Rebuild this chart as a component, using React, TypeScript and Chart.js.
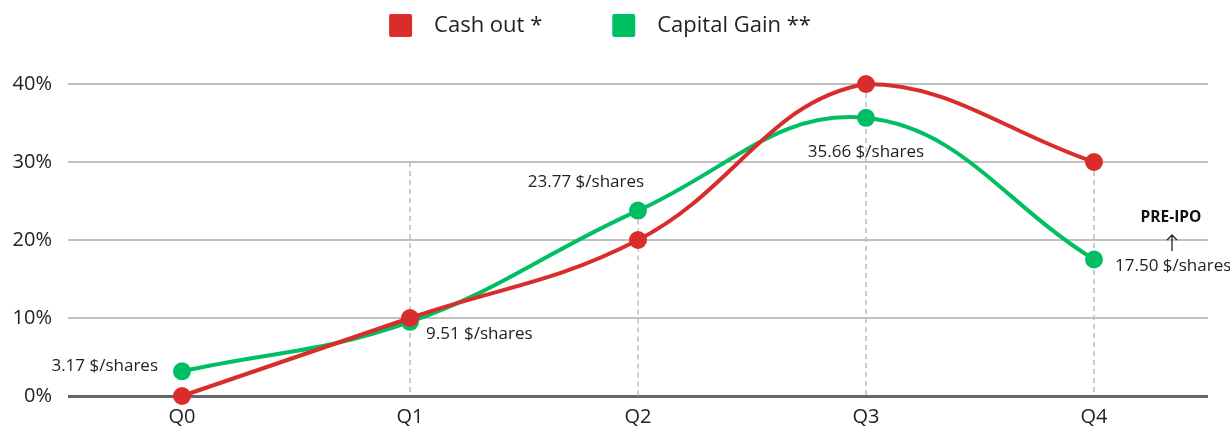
import React, { useEffect, useRef } from "react";
import { Chart, registerables } from "chart.js";

Chart.register(...registerables);

const categories = ["Q0", "Q1", "Q2", "Q3", "Q4"];
const cashOut = [0, 10, 20, 40, 30];
const capitalGain = [3.17, 9.51, 23.77, 35.66, 17.5];
const priceLabels = ["3.17 $/shares", "9.51 $/shares", "23.77 $/shares", "35.66 $/shares", "17.50 $/shares"];
const guideTops = [null, 30, 23.77, 40, 30];
const yTicks = [0, 10, 20, 30, 40];
const seriesNames = ["Cash out *", "Capital Gain **"];
const annotationText = "PRE-IPO";

const RED = "#d92d2b";
const GREEN = "#00bf63";
const FONT = "'Open Sans', sans-serif";

// label offsets relative to the green point (style, not data)
const labelPlacement = [
  { dx: -24, dy: -5, align: "right" },
  { dx: 16, dy: 12, align: "left" },
  { dx: -52, dy: -28, align: "center" },
  { dx: 0, dy: 34, align: "center" },
  { dx: 21, dy: 7, align: "left" },
];

const guidesPlugin = {
  id: "guides",
  beforeDatasetsDraw(chart: any) {
    const { ctx, scales } = chart;
    const x = scales.x, y = scales.y;
    ctx.save();
    ctx.strokeStyle = "#bdbdbd";
    ctx.lineWidth = 1.5;
    ctx.setLineDash([5, 4]);
    guideTops.forEach((v, i) => {
      if (v === null) return;
      const px = x.getPixelForValue(i);
      ctx.beginPath();
      ctx.moveTo(px, y.getPixelForValue(v));
      ctx.lineTo(px, y.getPixelForValue(0));
      ctx.stroke();
    });
    ctx.restore();
  },
  afterDraw(chart: any) {
    const { ctx, scales } = chart;
    const x = scales.x, y = scales.y;
    ctx.save();
    // price labels
    ctx.fillStyle = "#222";
    ctx.font = `17px ${FONT}`;
    ctx.textBaseline = "middle";
    priceLabels.forEach((t, i) => {
      const p = labelPlacement[i];
      ctx.textAlign = p.align as CanvasTextAlign;
      ctx.fillText(t, x.getPixelForValue(i) + p.dx, y.getPixelForValue(capitalGain[i]) + p.dy);
    });
    // PRE-IPO annotation
    const ax = x.getPixelForValue(categories.length - 1) + 78;
    const ay = y.getPixelForValue(20);
    ctx.font = `bold 15.5px ${FONT}`;
    ctx.textAlign = "center";
    ctx.fillStyle = "#111";
    ctx.fillText(annotationText, ax - 1, ay - 22);
    ctx.strokeStyle = "#222";
    ctx.lineWidth = 1.3;
    ctx.beginPath();
    ctx.moveTo(ax, ay + 11);
    ctx.lineTo(ax, ay - 5);
    ctx.moveTo(ax - 5, ay);
    ctx.lineTo(ax, ay - 5);
    ctx.lineTo(ax + 5, ay);
    ctx.stroke();
    // legend
    const colors = [RED, GREEN];
    ctx.font = `22px ${FONT}`;
    ctx.textAlign = "left";
    const widths = seriesNames.map((n) => 45 + ctx.measureText(n).width);
    const gap = 70;
    const total = widths.reduce((a, b) => a + b, 0) + gap * (widths.length - 1);
    let lx = chart.width / 2 - 15 - total / 2;
    seriesNames.forEach((n, i) => {
      ctx.fillStyle = colors[i];
      ctx.beginPath();
      (ctx as any).roundRect(lx, 14, 23, 23, 2);
      ctx.fill();
      ctx.fillStyle = "#222";
      ctx.fillText(n, lx + 45, 26);
      lx += widths[i] + gap;
    });
    ctx.restore();
  },
};

export default function App() {
  const ref = useRef<HTMLCanvasElement>(null);
  useEffect(() => {
    if (!ref.current) return;
    const chart = new Chart(ref.current, {
      type: "line",
      data: {
        labels: categories,
        datasets: [
          {
            label: seriesNames[0],
            data: cashOut,
            borderColor: RED,
            backgroundColor: RED,
            borderWidth: 4,
            pointRadius: 9,
            pointHoverRadius: 9,
            pointBorderWidth: 0,
            tension: 0.4,
            clip: false as any,
          },
          {
            label: seriesNames[1],
            data: capitalGain,
            borderColor: GREEN,
            backgroundColor: GREEN,
            borderWidth: 4,
            pointRadius: 9,
            pointHoverRadius: 9,
            pointBorderWidth: 0,
            tension: 0.4,
            clip: false as any,
          },
        ],
      },
      options: {
        animation: false,
        responsive: true,
        maintainAspectRatio: false,
        layout: { padding: { top: 84, right: 22, bottom: 0, left: 0 } },
        plugins: { legend: { display: false }, tooltip: { enabled: false } },
        scales: {
          x: {
            offset: true,
            afterFit: (s: any) => { s.height = 34; },
            grid: { display: false, drawTicks: false },
            border: { display: false },
            ticks: { color: "#222", font: { family: FONT, size: 20 }, padding: 9 },
          },
          y: {
            min: 0,
            max: 40,
            afterFit: (s: any) => { s.width = 68; },
            afterBuildTicks: (s: any) => { s.ticks = yTicks.map((v) => ({ value: v })); },
            grid: {
              drawTicks: false,
              color: (c: any) => (c.tick && c.tick.value === 0 ? "#666" : "#c0c0c0"),
              lineWidth: (c: any) => (c.tick && c.tick.value === 0 ? 3 : 2),
            },
            border: { display: false },
            ticks: {
              color: "#222",
              font: { family: FONT, size: 20 },
              padding: 16,
              callback: (v: any) => `${v}%`,
            },
          },
        },
      },
      plugins: [guidesPlugin],
    });
    return () => chart.destroy();
  }, []);
  return (
    <div style={{ position: "fixed", left: 0, top: 0, width: 1230, height: 430 }}>
      <canvas ref={ref} />
    </div>
  );
}
